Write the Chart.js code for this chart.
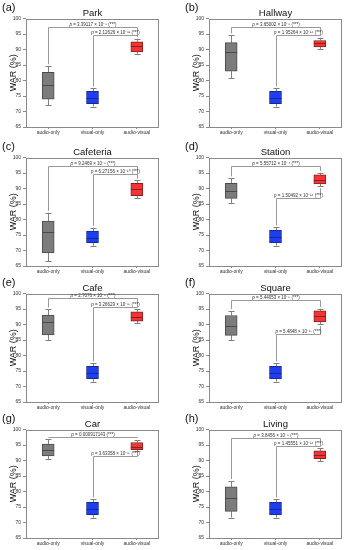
<!DOCTYPE html>
<html>
<head>
<meta charset="utf-8">
<script src="https://cdn.jsdelivr.net/npm/chart.js@4.4.0/dist/chart.umd.min.js"></script>
<style>
  html, body { margin: 0; padding: 0; background: #fff; overflow: hidden; }
  body { width: 344px; height: 550px; position: relative; font-family: "Liberation Sans", Arial, sans-serif; }
  .panel { position: absolute; width: 172px; height: 138px; }
  .tag { position: absolute; left: 2px; top: 1px; font-size: 11px; color: #111; }
</style>
</head>
<body>
<script>
// scenes and groups
const scenes = ['Park', 'Hallway', 'Cafeteria', 'Station', 'Cafe', 'Square', 'Car', 'Living'];
const tags = ['(a)', '(b)', '(c)', '(d)', '(e)', '(f)', '(g)', '(h)'];
const groups = ['audio-only', 'visual-only', 'audio-visual'];
const yTicks = [65, 70, 75, 80, 85, 90, 95, 100];

// audio-only box stats (WAR %)
const aoMin = [72.0, 80.8, 66.6, 85.3, 85.0, 84.9, 90.4, 71.6];
const aoQ1  = [74.0, 83.0, 69.2, 86.8, 86.6, 86.5, 91.5, 73.6];
const aoMed = [78.6, 89.1, 76.0, 89.1, 90.9, 89.6, 93.5, 78.0];
const aoQ3  = [82.6, 92.2, 79.5, 91.7, 93.0, 92.9, 95.3, 81.5];
const aoMax = [84.6, 94.6, 82.2, 93.3, 94.9, 94.4, 96.8, 83.4];

// visual-only box stats
const voMin = [71.6, 71.6, 71.6, 71.6, 71.6, 71.6, 71.6, 71.6];
const voQ1  = [72.5, 72.5, 72.5, 72.5, 72.5, 72.5, 72.5, 72.5];
const voMed = [74.2, 74.2, 74.1, 74.2, 74.2, 74.2, 74.2, 74.2];
const voQ3  = [76.5, 76.5, 76.3, 76.5, 76.5, 76.5, 76.5, 76.5];
const voMax = [77.5, 77.5, 77.4, 77.5, 77.5, 77.5, 77.5, 77.5];

// audio-visual box stats
const avMin = [88.6, 90.2, 86.8, 90.7, 90.5, 90.1, 93.1, 89.8];
const avQ1  = [89.2, 90.8, 87.7, 91.5, 91.1, 90.8, 93.5, 90.6];
const avMed = [91.1, 92.0, 89.8, 92.8, 92.5, 92.6, 94.5, 91.9];
const avQ3  = [92.5, 92.9, 91.7, 94.4, 94.1, 94.4, 95.8, 93.1];
const avMax = [93.5, 93.8, 92.6, 95.1, 94.9, 95.1, 96.6, 93.9];

// significance brackets: audio-only vs audio-visual, visual-only vs audio-visual
const pAoAv = ['3.39117 × 10⁻⁸', '3.65002 × 10⁻⁸', '9.2469 × 10⁻⁸', '5.55712 × 10⁻⁴',
               '2.7076 × 10⁻⁵', '5.44053 × 10⁻⁵', '0.000917143', '3.8456 × 10⁻⁸'];
const pVoAv = ['2.12626 × 10⁻¹¹', '1.95264 × 10⁻¹⁶', '6.27156 × 10⁻¹⁰', '1.50492 × 10⁻¹⁶',
               '3.26629 × 10⁻¹⁷', '5.4848 × 10⁻¹⁷', '3.63358 × 10⁻¹⁷', '1.45551 × 10⁻¹⁶'];
const levelAoAv = [97.2, 97.2, 97.3, 97.3, 98.4, 97.8, 97.6, 97.1];
const levelVoAv = [94.7, 94.8, 94.7, 86.8, 95.8, 86.8, 91.5, 94.7];

const fills = ['#7c7c7c', '#1f3df2', '#f23434'];
const edges = ['#4a4a4a', '#1a2a8a', '#8a1f1f'];
const FONT = '"Liberation Sans", Arial, sans-serif';

const colX = [0, 183];
const rowY = [0, 139, 275, 411];

function boxPlugin(i) {
  const stats = [
    { min: aoMin[i], med: aoMed[i], max: aoMax[i] },
    { min: voMin[i], med: voMed[i], max: voMax[i] },
    { min: avMin[i], med: avMed[i], max: avMax[i] }
  ];
  const q1 = [aoQ1[i], voQ1[i], avQ1[i]];
  const q3 = [aoQ3[i], voQ3[i], avQ3[i]];
  return {
    id: 'boxes' + i,
    beforeDatasetsDraw(chart) {
      const { ctx, scales: { x, y } } = chart;
      ctx.save();
      ctx.strokeStyle = '#808080';
      ctx.lineWidth = 1;
      stats.forEach((st, k) => {
        const cx = Math.round(x.getPixelForValue(k)) + 0.5;
        ctx.beginPath();
        ctx.moveTo(cx, y.getPixelForValue(st.min)); ctx.lineTo(cx, y.getPixelForValue(q1[k]));
        ctx.moveTo(cx, y.getPixelForValue(q3[k])); ctx.lineTo(cx, y.getPixelForValue(st.max));
        ctx.stroke();
        [st.min, st.max].forEach(v => {
          const py = Math.round(y.getPixelForValue(v)) + 0.5;
          ctx.beginPath(); ctx.moveTo(cx - 3, py); ctx.lineTo(cx + 3, py); ctx.stroke();
        });
      });
      ctx.restore();
    },
    afterDatasetsDraw(chart) {
      const { ctx, chartArea: a, scales: { x, y } } = chart;
      ctx.save();
      // medians
      stats.forEach((st, k) => {
        const cx = x.getPixelForValue(k);
        const py = Math.round(y.getPixelForValue(st.med)) + 0.5;
        ctx.strokeStyle = edges[k];
        ctx.lineWidth = 1;
        ctx.beginPath(); ctx.moveTo(cx - 6, py); ctx.lineTo(cx + 6, py); ctx.stroke();
      });
      // frame
      ctx.strokeStyle = '#8a8a8a';
      ctx.strokeRect(Math.round(a.left) + 0.5, Math.round(a.top) + 0.5,
                     Math.round(a.right - a.left) - 1, Math.round(a.bottom - a.top) - 1);
      // brackets
      const bracket = (k1, k2, lvl, leg1, leg2, txt) => {
        const x1 = Math.round(x.getPixelForValue(k1)) + 0.5;
        const x2 = Math.round(x.getPixelForValue(k2)) + 0.5;
        const py = Math.round(y.getPixelForValue(lvl)) + 0.5;
        ctx.strokeStyle = '#9a9a9a';
        ctx.beginPath();
        ctx.moveTo(x1, y.getPixelForValue(leg1)); ctx.lineTo(x1, py);
        ctx.lineTo(x2, py); ctx.lineTo(x2, y.getPixelForValue(leg2));
        ctx.stroke();
        const rest = ' = ' + txt + ' (***)';
        ctx.fillStyle = '#333';
        ctx.textBaseline = 'alphabetic';
        ctx.font = 'italic 4.5px ' + FONT;
        const wp = ctx.measureText('p').width;
        ctx.font = '4.5px ' + FONT;
        const wr = ctx.measureText(rest).width;
        const sx = (x1 + x2) / 2 - (wp + wr) / 2;
        ctx.font = 'italic 4.5px ' + FONT;
        ctx.fillText('p', sx, py - 2);
        ctx.font = '4.5px ' + FONT;
        ctx.fillText(rest, sx + wp, py - 2);
      };
      bracket(0, 2, levelAoAv[i], aoMax[i] + 0.6, avMax[i] + 0.6, pAoAv[i]);
      const below = levelVoAv[i] < avMin[i];
      bracket(1, 2, levelVoAv[i], voMax[i] + 0.6, below ? avMin[i] - 0.6 : avMax[i] + 0.6, pVoAv[i]);
      ctx.restore();
    }
  };
}

scenes.forEach((scene, i) => {
  const div = document.createElement('div');
  div.className = 'panel';
  div.style.left = colX[i % 2] + 'px';
  div.style.top = rowY[Math.floor(i / 2)] + 'px';
  const cv = document.createElement('canvas');
  cv.width = 172; cv.height = 138;
  div.appendChild(cv);
  const tag = document.createElement('div');
  tag.className = 'tag';
  tag.textContent = tags[i];
  div.appendChild(tag);
  document.body.appendChild(div);

  new Chart(cv, {
    type: 'bar',
    data: {
      labels: groups,
      datasets: [{
        data: [[aoQ1[i], aoQ3[i]], [voQ1[i], voQ3[i]], [avQ1[i], avQ3[i]]],
        backgroundColor: fills,
        borderColor: edges,
        borderWidth: 1,
        borderSkipped: false,
        barThickness: 12
      }]
    },
    options: {
      responsive: false,
      animation: false,
      devicePixelRatio: 1,
      layout: { padding: { left: 0, right: 13, top: 0, bottom: 0 } },
      plugins: {
        legend: { display: false },
        tooltip: { enabled: false },
        title: {
          display: true, text: scene, fullSize: false, color: '#111',
          font: { family: FONT, size: 9.5, weight: 'normal', lineHeight: 1 },
          padding: { top: 9, bottom: 0 }
        }
      },
      scales: {
        x: {
          offset: true,
          grid: { display: true, drawOnChartArea: false, drawTicks: true, tickLength: 2, offset: false, color: '#8a8a8a' },
          border: { display: false },
          ticks: { color: '#333', padding: 1, font: { family: FONT, size: 5 }, maxRotation: 0, autoSkip: false },
          afterFit: s => { s.height = 11; }
        },
        y: {
          min: yTicks[0], max: yTicks[yTicks.length - 1],
          afterBuildTicks: s => { s.ticks = yTicks.map(v => ({ value: v })); },
          grid: { display: true, drawOnChartArea: false, drawTicks: true, tickLength: 3, color: '#8a8a8a' },
          border: { display: false },
          ticks: { color: '#333', padding: 2, font: { family: FONT, size: 5 } },
          title: { display: true, text: 'WAR (%)', color: '#111', font: { family: FONT, size: 9 }, padding: { top: 8, bottom: 0 } },
          afterFit: s => { s.width = 26; }
        }
      }
    },
    plugins: [boxPlugin(i)]
  });
});
</script>
</body>
</html>
